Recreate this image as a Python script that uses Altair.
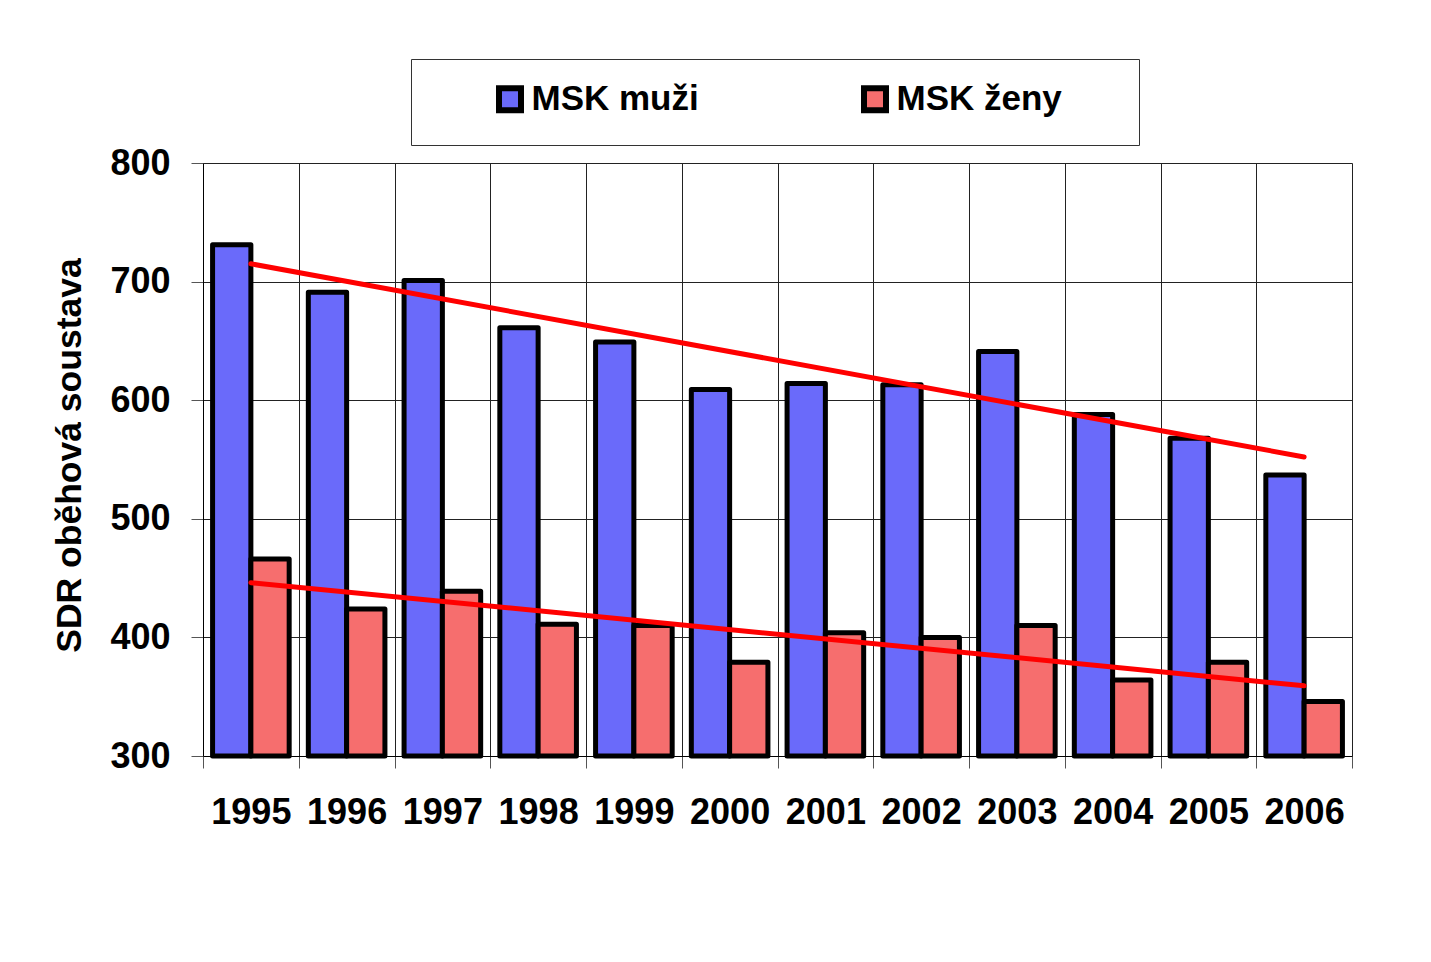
import altair as alt
import pandas as pd

years = [1995, 1996, 1997, 1998, 1999, 2000, 2001, 2002, 2003, 2004, 2005, 2006]
muzi = [731, 691, 701, 661, 649, 609, 614, 613, 641, 588, 568, 537]
zeny = [466, 424, 439, 411, 410, 379, 404, 400, 410, 364, 379, 346]
series_names = ["MSK muži", "MSK ženy"]
series_colors = ["#6a6afa", "#f66e6e"]
y_ticks = [300, 400, 500, 600, 700, 800]
y_title = "SDR oběhová soustava"

rows = []
for i, yr in enumerate(years):
    rows.append({"year": yr, "series": series_names[0], "value": muzi[i]})
    rows.append({"year": yr, "series": series_names[1], "value": zeny[i]})
df = pd.DataFrame(rows)

FONT = "Liberation Sans"

x_enc = alt.X(
    "year:O",
    scale=alt.Scale(paddingInner=0, paddingOuter=0),
    axis=alt.Axis(
        title=None, labelAngle=0, labelFont=FONT, labelFontSize=36,
        labelFontWeight="bold", labelColor="black", labelPadding=27,
        tickSize=12, tickBand="extent", tickColor="#555", grid=True,
        gridColor="#222", gridWidth=1, domainColor="black",
    ),
)
y_enc = alt.Y(
    "value:Q",
    scale=alt.Scale(domain=[300, 800], zero=False, nice=False),
    axis=alt.Axis(
        values=y_ticks, title=y_title, titleFont=FONT, titleFontSize=35.5,
        titleFontWeight="bold", titleColor="black", titleAngle=270,
        titleAlign="center", titleBaseline="alphabetic", titleX=-123, titleY=292,
        labelFont=FONT, labelFontSize=36, labelFontWeight="bold",
        labelColor="black", labelPadding=21, tickSize=12, tickColor="#555",
        grid=True, gridColor="#222", gridWidth=1, domainColor="black",
    ),
)

base = alt.Chart(df)

bars = base.mark_bar(stroke="black", strokeWidth=5, strokeJoin="round").encode(
    x=x_enc,
    xOffset=alt.XOffset("series:N", sort=series_names,
                        scale=alt.Scale(paddingInner=0, paddingOuter=0.25)),
    y=y_enc,
    y2=alt.datum(300),
    color=alt.Color(
        "series:N", sort=series_names,
        scale=alt.Scale(domain=series_names, range=series_colors),
        legend=alt.Legend(
            title=" ", titleOrient="right", titlePadding=55, titleFontSize=1,
            orient="none", legendX=208, legendY=-104, direction="horizontal",
            padding=22.5, symbolOffset=59, columnPadding=99, labelOffset=4,
            symbolType="square", symbolSize=484, symbolStrokeWidth=6,
            symbolStrokeColor="black", symbolOpacity=1,
            labelFont=FONT, labelFontSize=35, labelFontWeight="bold",
            labelColor="black", labelLimit=400,
            strokeColor="#333", fillColor="white",
        ),
    ),
)

trend = base.transform_regression("year", "value", groupby=["series"]).mark_line(
    color="#ff0000", strokeWidth=5, strokeCap="round"
).encode(
    x=x_enc,
    y=y_enc,
    detail="series:N",
)

chart = alt.layer(bars, trend).properties(
    width=1149,
    height=593,
    padding={"left": 195, "top": 155, "right": 71, "bottom": 198},
    autosize=alt.AutoSizeParams(type="none"),
    background="white",
).configure_view(stroke="black", strokeWidth=1).configure(font=FONT)

chart.save("out.html", embed_options={"renderer": "svg", "actions": False})
